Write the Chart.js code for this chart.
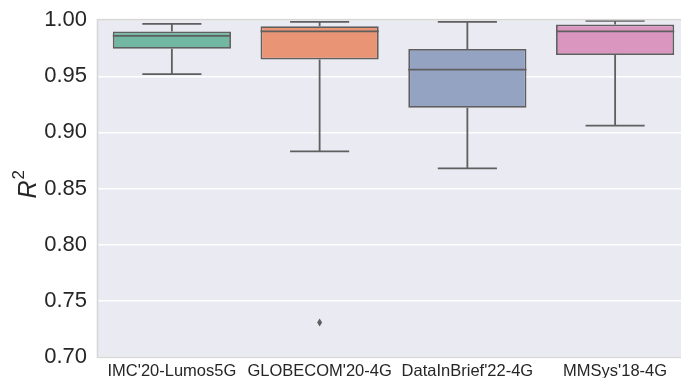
<!DOCTYPE html>
<html>
<head>
<meta charset="utf-8">
<script src="https://cdn.jsdelivr.net/npm/chart.js@4/dist/chart.umd.min.js"></script>
<style>
  html, body { margin: 0; padding: 0; background: #ffffff; overflow: hidden; }
  #wrap { position: relative; top: -4px; width: 690px; height: 385px; }
</style>
</head>
<body>
<div id="wrap"><canvas id="chart"></canvas></div>
<script>
// R^2 distributions per dataset (box statistics)
const categories = ["IMC'20-Lumos5G", "GLOBECOM'20-4G", "DataInBrief'22-4G", "MMSys'18-4G"];
const whiskerLow  = [0.952, 0.883, 0.868, 0.906];
const q1          = [0.9745, 0.965, 0.922, 0.969];
const median      = [0.986, 0.990, 0.956, 0.990];
const q3          = [0.990, 0.9947, 0.9743, 0.9962];
const whiskerHigh = [0.9967, 0.9985, 0.9985, 0.9994];
const outliers    = [[], [0.7305], [], []];
const yTicks      = [0.70, 0.75, 0.80, 0.85, 0.90, 0.95, 1.00];

const boxColors = ['#71b7a1', '#e99575', '#95a3c3', '#db96c0'];
const lineColor = '#5f5f5f';
const textColor = '#262626';
const FONT = '"Liberation Sans", Arial, sans-serif';
const BOX_FRAC = 0.8;   // box width as fraction of category slot
const CAP_FRAC = 0.4;   // whisker cap width

function slotWidth(xs) {
  return xs.getPixelForValue(1) - xs.getPixelForValue(0);
}

const boxPlugin = {
  id: 'boxParts',
  beforeDraw(chart) {
    const { ctx, chartArea: a } = chart;
    ctx.save();
    ctx.fillStyle = '#eaeaf2';
    ctx.fillRect(a.left, a.top, a.right - a.left, a.bottom - a.top);
    ctx.restore();
  },
  afterDraw(chart) {
    const { ctx, chartArea: a } = chart;
    ctx.save();
    // light frame around plot area
    ctx.strokeStyle = '#d6d6d6';
    ctx.lineWidth = 1.6;
    ctx.strokeRect(a.left - 0.5, a.top - 0.5, a.right - a.left + 1, a.bottom - a.top + 1);
    // y axis label: italic R with superscript 2
    const midY = (a.top + a.bottom) / 2;
    ctx.translate(36, midY + 10);
    ctx.rotate(-Math.PI / 2);
    ctx.fillStyle = textColor;
    ctx.textBaseline = 'alphabetic';
    ctx.textAlign = 'left';
    ctx.font = 'italic 25px ' + FONT;
    ctx.fillText('R', 0, 0);
    const rw = ctx.measureText('R').width;
    ctx.font = '17px ' + FONT;
    ctx.fillText('2', rw + 1, -12);
    ctx.restore();
  },
  beforeDatasetsDraw(chart) {
    // whiskers and caps, under the boxes
    const { ctx, scales: { x, y } } = chart;
    const w = slotWidth(x);
    ctx.save();
    ctx.strokeStyle = lineColor;
    ctx.lineWidth = 1.8;
    categories.forEach((c, i) => {
      const cx = x.getPixelForValue(i);
      const half = w * CAP_FRAC / 2;
      const yLo = y.getPixelForValue(whiskerLow[i]);
      const yHi = y.getPixelForValue(whiskerHigh[i]);
      const yQ1 = y.getPixelForValue(q1[i]);
      const yQ3 = y.getPixelForValue(q3[i]);
      ctx.beginPath();
      ctx.moveTo(cx, yQ1); ctx.lineTo(cx, yLo);
      ctx.moveTo(cx, yQ3); ctx.lineTo(cx, yHi);
      ctx.moveTo(cx - half, yLo); ctx.lineTo(cx + half, yLo);
      ctx.moveTo(cx - half, yHi); ctx.lineTo(cx + half, yHi);
      ctx.stroke();
    });
    ctx.restore();
  },
  afterDatasetsDraw(chart) {
    // medians and outlier diamonds
    const { ctx, scales: { x, y } } = chart;
    const w = slotWidth(x);
    ctx.save();
    ctx.strokeStyle = lineColor;
    ctx.lineWidth = 1.8;
    categories.forEach((c, i) => {
      const cx = x.getPixelForValue(i);
      const half = w * BOX_FRAC / 2;
      const ym = y.getPixelForValue(median[i]);
      ctx.beginPath();
      ctx.moveTo(cx - half, ym); ctx.lineTo(cx + half, ym);
      ctx.stroke();
      ctx.fillStyle = lineColor;
      outliers[i].forEach(v => {
        const py = y.getPixelForValue(v);
        ctx.beginPath();
        ctx.moveTo(cx, py - 4);
        ctx.lineTo(cx + 2.5, py);
        ctx.lineTo(cx, py + 4);
        ctx.lineTo(cx - 2.5, py);
        ctx.closePath();
        ctx.fill();
      });
    });
    ctx.restore();
  }
};

new Chart(document.getElementById('chart'), {
  type: 'bar',
  data: {
    labels: categories,
    datasets: [{
      data: categories.map((c, i) => [q1[i], q3[i]]),
      backgroundColor: boxColors,
      borderColor: lineColor,
      borderWidth: 1.8,
      borderSkipped: false,
      barPercentage: BOX_FRAC,
      categoryPercentage: 1.0
    }]
  },
  options: {
    responsive: true,
    maintainAspectRatio: false,
    animation: false,
    layout: { padding: { left: 0, top: 0, right: 1, bottom: 0 } },
    plugins: {
      legend: { display: false },
      tooltip: { enabled: false }
    },
    scales: {
      x: {
        grid: { display: false, drawTicks: false },
        border: { display: false },
        ticks: {
          color: textColor,
          padding: 5,
          maxRotation: 0,
          autoSkip: false,
          font: { family: FONT, size: 16.5 }
        },
        afterFit(s) { s.height = 21; }
      },
      y: {
        min: 0.70,
        max: 1.00,
        afterBuildTicks(s) { s.ticks = yTicks.map(v => ({ value: v })); },
        grid: { color: '#ffffff', lineWidth: 1.6, drawTicks: false },
        border: { display: false },
        ticks: {
          color: textColor,
          padding: 11,
          font: { family: FONT, size: 22 },
          callback: v => Number(v).toFixed(2)
        },
        title: { display: false },
        afterFit(s) { s.width = 98; }
      }
    }
  },
  plugins: [boxPlugin]
});
</script>
</body>
</html>
